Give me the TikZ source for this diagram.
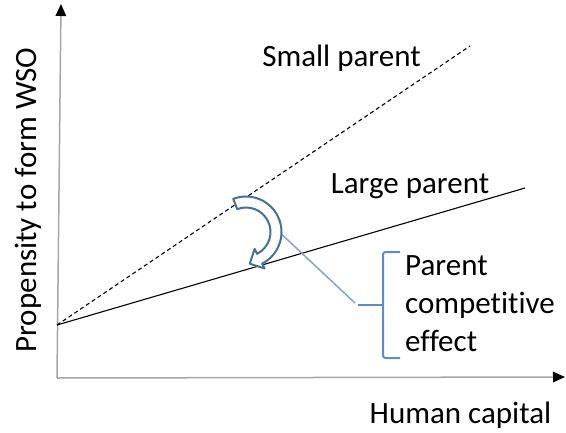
\documentclass[tikz,border=0pt]{standalone}
\usepackage{fontspec}
\setmainfont{Carlito}[Ligatures=NoCommon]
\usetikzlibrary{arrows.meta}
\definecolor{axisgray}{RGB}{166,166,166}
\definecolor{arrowblue}{RGB}{65,113,156}
\definecolor{linkblue}{RGB}{130,165,205}
\definecolor{bracketblue}{RGB}{95,140,195}
\tikzset{
  axisline/.style={draw=axisgray, line width=1.5pt, -{Triangle[length=12pt,width=10.5pt,color=black]}},
  curveline/.style={draw=black, line width=1.1pt},
  lbl/.style={inner sep=0pt, font=\fontsize{31}{38}\selectfont, text=black},
  arrowshape/.style={draw=arrowblue, line width=2pt, fill=white, line join=round},
  linkline/.style={draw=linkblue, line width=1.5pt},
  bracketline/.style={draw=bracketblue, line width=2pt, rounded corners=2.5pt}
}
\begin{document}
\begin{tikzpicture}[x=1pt,y=-1pt]
\useasboundingbox (0,0) rectangle (566,432);
% axes
\coordinate (org) at (57,378);
\coordinate (ytop) at (61,4);
\coordinate (xend) at (565,377);
\draw[axisline] (org) -- (ytop);
\draw[axisline] (org) -- (xend);
% lines
\coordinate (o) at (57,325);
\coordinate (s) at (470,46);
\coordinate (l) at (525,188);
\draw[curveline, dash pattern=on 4pt off 3pt] (o) -- (s);
\draw[curveline] (o) -- (l);
% connector
\coordinate (cstart) at (276,229);
\coordinate (lend) at (355,303);
\draw[linkline] (cstart) -- (lend);
% curved block arrow
\begin{scope}[shift={(246,232)}]
\coordinate (tip) at (3.8,31.7);
\draw[arrowshape] (-111:35.5) arc[start angle=-111,end angle=63,radius=35.5]
  -- (63:41) -- (tip) -- (63:19) -- (63:24.5)
  arc[start angle=63,end angle=-111,radius=24.5] -- cycle;
\end{scope}
% bracket
\coordinate (btop) at (400,252);
\coordinate (bbot) at (400,358);
\coordinate (bmid) at (383,305);
\coordinate (btick) at (358,305);
\draw[bracketline] (btop) -- (383,252) -- (383,358) -- (bbot);
\draw[bracketline] (btick) -- (bmid);
% labels
\node[lbl, anchor=base] (small) at (341.5,66.5) {Small parent};
\node[lbl, anchor=base] (large) at (410,193) {Large parent};
\node[lbl, anchor=base] (hc) at (460.5,423) {Human capital};
\node[lbl, anchor=base, rotate=90] (yl) at (36,200) {Propensity to form WSO};
\node[lbl, anchor=base west] (pe1) at (405,275) {Parent};
\node[lbl, anchor=base west] (pe2) at (405,313) {competitive};
\node[lbl, anchor=base west] (pe3) at (405,351.5) {effect};
\end{tikzpicture}
\end{document}
